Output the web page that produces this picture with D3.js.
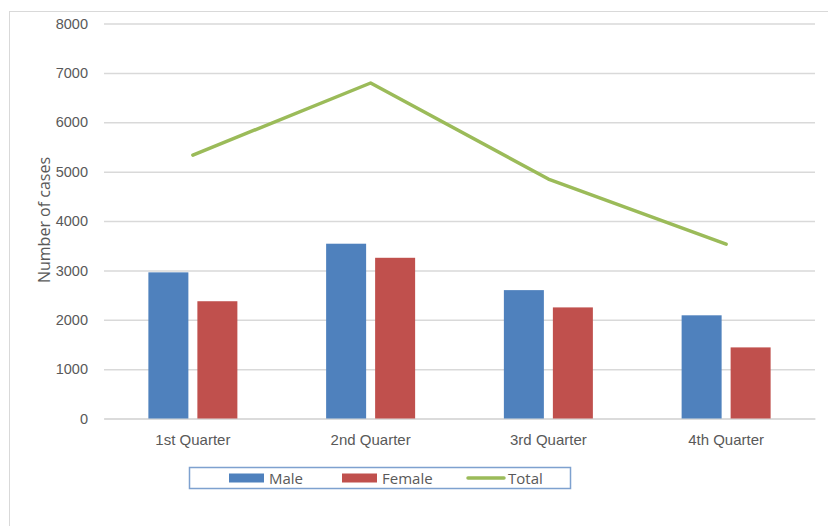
<!DOCTYPE html>
<html>
<head>
<meta charset="utf-8">
<script src="https://cdn.jsdelivr.net/npm/d3@7"></script>
<style>
  html, body { margin: 0; padding: 0; background: #fff; }
  svg { display: block; font-family: "Open Sans", "Noto Sans", sans-serif; }
</style>
</head>
<body>
<svg id="chart" width="828" height="526"></svg>
<script>
// Quarterly case counts
const categories = ["1st Quarter", "2nd Quarter", "3rd Quarter", "4th Quarter"];
const maleValues = [2960, 3540, 2600, 2090];
const femaleValues = [2375, 3255, 2250, 1440];
const totalValues = [5335, 6795, 4850, 3530];
const yTicks = [0, 1000, 2000, 3000, 4000, 5000, 6000, 7000, 8000];
const seriesNames = ["Male", "Female", "Total"];
const colors = { Male: "#4F81BD", Female: "#C0504D", Total: "#9BBB59" };

const svg = d3.select("#chart");
const W = 828, H = 526;
const plot = { left: 104, right: 815, top: 23.5, bottom: 418.5 };

// Outer chart frame
svg.append("rect")
  .attr("x", 9.5).attr("y", 11.5)
  .attr("width", W + 20).attr("height", H + 20)
  .attr("fill", "none").attr("stroke", "#D9D9D9").attr("stroke-width", 1);

const x = d3.scaleBand().domain(categories).range([plot.left, plot.right]);
const y = d3.scaleLinear().domain([0, 8000]).range([plot.bottom, plot.top]);

// Horizontal gridlines and y labels
const yAxis = d3.axisLeft(y).tickValues(yTicks).tickFormat(d3.format("d"))
  .tickSize(-(plot.right - plot.left)).tickPadding(16);
const gy = svg.append("g").attr("transform", `translate(${plot.left},0)`).call(yAxis);
gy.select(".domain").remove();
gy.selectAll(".tick line").attr("stroke", "#D9D9D9").attr("stroke-width", 1.5);
gy.selectAll(".tick text").attr("fill", "#595959").attr("font-size", "14.5px");

// Category axis
const xAxis = d3.axisBottom(x).tickSize(0).tickPadding(16);
const gx = svg.append("g").attr("transform", `translate(0,${plot.bottom})`).call(xAxis);
gx.select(".domain").attr("stroke", "#D9D9D9").attr("stroke-width", 1.5);
gx.selectAll(".tick text").attr("fill", "#595959").attr("font-size", "15px");

// Grouped bars: 40px bars with a 9px gap, centred in each category
const groupWidth = 89;
const x1 = d3.scaleBand().domain(["Male", "Female"])
  .range([0, groupWidth]).paddingInner(9 / 49);
const groupOffset = (x.bandwidth() - groupWidth) / 2;

const barData = [];
categories.forEach((c, i) => {
  barData.push({ cat: c, key: "Male", value: maleValues[i] });
  barData.push({ cat: c, key: "Female", value: femaleValues[i] });
});

svg.append("g").selectAll("rect")
  .data(barData)
  .join("rect")
  .attr("x", d => x(d.cat) + groupOffset + x1(d.key))
  .attr("width", x1.bandwidth())
  .attr("y", d => y(d.value))
  .attr("height", d => y(0) - y(d.value))
  .attr("fill", d => colors[d.key]);

// Total line
const line = d3.line()
  .x((d, i) => x(categories[i]) + x.bandwidth() / 2)
  .y(d => y(d));
svg.append("path")
  .datum(totalValues)
  .attr("d", line)
  .attr("fill", "none")
  .attr("stroke", colors.Total)
  .attr("stroke-width", 3.5)
  .attr("stroke-linejoin", "round")
  .attr("stroke-linecap", "round");

// Y axis title
svg.append("text")
  .attr("transform", "translate(50,220) rotate(-90)")
  .attr("text-anchor", "middle")
  .attr("fill", "#595959")
  .attr("font-size", "16px")
  .text("Number of cases");

// Legend
const legend = svg.append("g");
legend.append("rect")
  .attr("x", 189.5).attr("y", 467.5)
  .attr("width", 381).attr("height", 21)
  .attr("fill", "#fff").attr("stroke", "#7EA1CF").attr("stroke-width", 1.5);

const legendX = { Male: 229, Female: 342, Total: 467 };
seriesNames.forEach(name => {
  const lx = legendX[name];
  if (name === "Total") {
    legend.append("line")
      .attr("x1", lx + 1).attr("x2", lx + 37)
      .attr("y1", 478).attr("y2", 478)
      .attr("stroke", colors.Total).attr("stroke-width", 3.5)
      .attr("stroke-linecap", "round");
  } else {
    legend.append("rect")
      .attr("x", lx).attr("y", 473.5)
      .attr("width", 35).attr("height", 9)
      .attr("fill", colors[name]);
  }
  legend.append("text")
    .attr("x", lx + (name === "Total" ? 41 : 40))
    .attr("y", 483.5)
    .attr("fill", "#595959")
    .attr("font-size", "15px")
    .text(name);
});
</script>
</body>
</html>
